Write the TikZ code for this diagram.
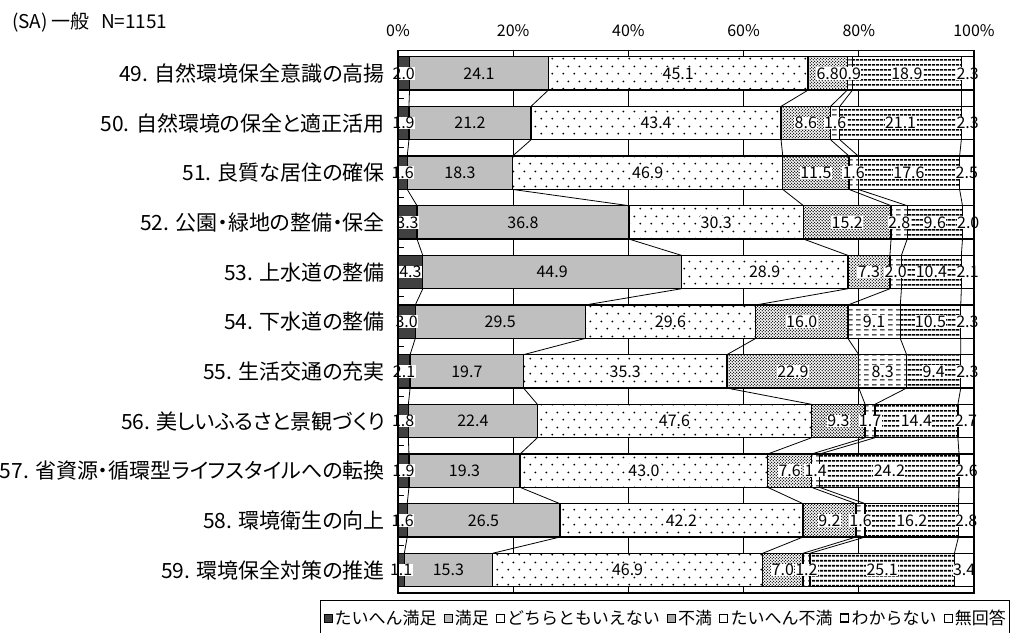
\documentclass[tikz,border=0pt]{standalone}
\usepackage{fontspec}
\setmainfont{Noto Sans CJK JP}
\newfontfamily\palfont[RawFeature=+palt]{Noto Sans CJK JP}
\usetikzlibrary{patterns,positioning}

\pgfdeclarepatternformonly{sparsedots}{\pgfpointorigin}{\pgfpoint{11pt}{15pt}}{\pgfpoint{11pt}{15pt}}{%
  \pgfpathcircle{\pgfpoint{2.5pt}{3.5pt}}{1.05pt}%
  \pgfpathcircle{\pgfpoint{8pt}{11pt}}{1.05pt}%
  \pgfusepath{fill}}
\pgfdeclarepatternformonly{densedots}{\pgfpointorigin}{\pgfpoint{3.4pt}{3.4pt}}{\pgfpoint{3.4pt}{3.4pt}}{%
  \pgfpathcircle{\pgfpoint{0.85pt}{0.85pt}}{0.85pt}%
  \pgfpathcircle{\pgfpoint{2.55pt}{2.55pt}}{0.85pt}%
  \pgfusepath{fill}}
\pgfdeclarepatternformonly{dashhlines}{\pgfpointorigin}{\pgfpoint{8pt}{5pt}}{\pgfpoint{8pt}{5pt}}{%
  \pgfpathrectangle{\pgfpoint{0pt}{2pt}}{\pgfpoint{5pt}{1pt}}%
  \pgfusepath{fill}}
\pgfdeclarepatternformonly{thickhlines}{\pgfpointorigin}{\pgfpoint{4pt}{5pt}}{\pgfpoint{4pt}{5pt}}{%
  \pgfpathrectangle{\pgfpoint{0pt}{1.5pt}}{\pgfpoint{4pt}{2pt}}%
  \pgfusepath{fill}}

\tikzset{
  barline/.style={draw=black, line width=1.3pt},
  bar1/.style={barline, fill=black!75},
  bar2/.style={barline, fill=black!25},
  bar3/.style={barline, preaction={fill=white}, pattern=sparsedots},
  bar4/.style={barline, preaction={fill=white}, pattern=densedots},
  bar5/.style={barline, preaction={fill=white}, pattern=dashhlines},
  bar6/.style={barline, preaction={fill=white}, pattern=thickhlines},
  bar7/.style={barline, fill=white},
  num/.style={font=\fontsize{16}{16}\selectfont, inner sep=0.4pt},
  num1/.style={fill=white}, num2/.style={}, num3/.style={fill=white},
  num4/.style={fill=white}, num5/.style={fill=white}, num6/.style={fill=white},
  num7/.style={fill=white},
  rowlab/.style={anchor=east, inner sep=0pt, font=\palfont\fontsize{21}{21}\selectfont},
  axlab/.style={inner sep=0pt, font=\fontsize{16}{16}\selectfont},
  gridline/.style={draw=black, line width=0.9pt},
  serline/.style={draw=black, line width=0.8pt},
  legtxt/.style={inner sep=0pt, font=\fontsize{17}{17}\selectfont},
  legmark/.style={draw=black, line width=0.9pt, minimum size=8pt, inner sep=0pt},
}

\begin{document}
\begin{tikzpicture}[x=1pt,y=-1pt]
\useasboundingbox (0,0) rectangle (1011,632);

% title and scale
\node[axlab, anchor=west, font=\fontsize{19}{19}\selectfont] (ttl) at (12,22) {(SA)\,一般\hspace{12pt}N=1151};
\foreach \p in {0,20,...,100}
  \node[axlab] (ax\p) at ({398+5.76*\p},31) {\p\%};

% grid
\foreach \p in {20,40,60,80}
  \draw[gridline] ({398+5.76*\p},50.7) -- ({398+5.76*\p},593);
\foreach \i in {0,...,9}
  \draw[gridline] (398,{98.2+49.66*\i}) -- ++(6,0);

% bars
\foreach \i/\name/\vals in {
  0/{49. 自然環境保全意識の高揚}/{2.0,24.1,45.1,6.8,0.9,18.9,2.3},
  1/{50. 自然環境の保全と適正活用}/{1.9,21.2,43.4,8.6,1.6,21.1,2.3},
  2/{51. 良質な居住の確保}/{1.6,18.3,46.9,11.5,1.6,17.6,2.5},
  3/{52. 公園・緑地の整備・保全}/{3.3,36.8,30.3,15.2,2.8,9.6,2.0},
  4/{53. 上水道の整備}/{4.3,44.9,28.9,7.3,2.0,10.4,2.1},
  5/{54. 下水道の整備}/{3.0,29.5,29.6,16.0,9.1,10.5,2.3},
  6/{55. 生活交通の充実}/{2.1,19.7,35.3,22.9,8.3,9.4,2.3},
  7/{56. 美しいふるさと景観づくり}/{1.8,22.4,47.6,9.3,1.7,14.4,2.7},
  8/{57. 省資源・循環型ライフスタイルへの転換}/{1.9,19.3,43.0,7.6,1.4,24.2,2.6},
  9/{58. 環境衛生の向上}/{1.6,26.5,42.2,9.2,1.6,16.2,2.8},
  10/{59. 環境保全対策の推進}/{1.1,15.3,46.9,7.0,1.2,25.1,3.4}}{
  \pgfmathsetmacro\ytop{56.7+49.66*\i}
  \pgfmathsetmacro\ybot{\ytop+33.4}
  \pgfmathsetmacro\yc{\ytop+16.7}
  \node[rowlab] (row\i) at (385,\yc) {\name};
  \gdef\cum{0}
  \foreach \v [count=\k] in \vals {
    \pgfmathsetmacro\nxt{\k==7 ? 100 : \cum+\v}
    \draw[bar\k] ({398+5.76*\cum},\ytop) rectangle ({398+5.76*\nxt},\ybot);
    \coordinate (m\i-\k) at ({398+5.76*(\cum+\nxt)/2},\yc);
    \coordinate (t\i-\k) at ({398+5.76*\nxt},\ytop);
    \coordinate (b\i-\k) at ({398+5.76*\nxt},\ybot);
    \xdef\cum{\nxt}
  }
  \foreach \v [count=\k] in \vals
    \node[num, num\k] (v\i-\k) at (m\i-\k) {\v};
}

% series lines
\foreach \i in {0,...,9}{
  \pgfmathtruncatemacro\j{\i+1}
  \foreach \k in {1,...,6}
    \draw[serline] (b\i-\k) -- (t\j-\k);
}

% frame
\draw[line width=1.5pt] (398,50.7) rectangle (974,593);

% legend
\node[legtxt, anchor=east] (lt7) at (1006,618) {無回答};
\node[legmark, fill=white, left=2pt of lt7] (lm7) {};
\node[legtxt, left=7pt of lm7] (lt6) {わからない};
\node[legmark, line width=1.6pt, fill=white, left=2pt of lt6] (lm6) {};
\node[legtxt, left=7pt of lm6] (lt5) {たいへん不満};
\node[legmark, fill=white, left=2pt of lt5] (lm5) {};
\node[legtxt, left=7pt of lm5] (lt4) {不満};
\node[legmark, fill=black!35, left=2pt of lt4] (lm4) {};
\node[legtxt, left=7pt of lm4] (lt3) {どちらともいえない};
\node[legmark, fill=white, left=2pt of lt3] (lm3) {};
\node[legtxt, left=7pt of lm3] (lt2) {満足};
\node[legmark, fill=black!25, left=2pt of lt2] (lm2) {};
\node[legtxt, left=7pt of lm2] (lt1) {たいへん満足};
\node[legmark, fill=black!75, left=2pt of lt1] (lm1) {};
\coordinate (legl) at ([xshift=-3pt]lm1.west);
\draw[line width=0.9pt] (legl |- 0,600.5) rectangle (1009.5,640);
\end{tikzpicture}
\end{document}
